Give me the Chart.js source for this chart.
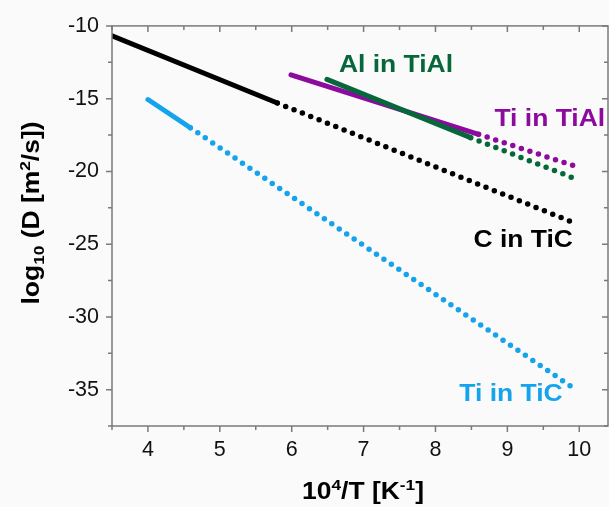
<!DOCTYPE html>
<html>
<head>
<meta charset="utf-8">
<script src="https://cdn.jsdelivr.net/npm/chart.js@4.4.1/dist/chart.umd.min.js"></script>
<style>
  html, body { margin: 0; padding: 0; background: #fafafa; }
  #wrap { width: 609px; height: 507px; }
</style>
</head>
<body>
<div id="wrap"><canvas id="diffChart"></canvas></div>
<script>
// Arrhenius plot of diffusion coefficients

// tick labels
const xTicks = [4, 5, 6, 7, 8, 9, 10];
const yTicks = [-10, -15, -20, -25, -30, -35];

// C in TiC (black)
const cTicSolidX = [3.5, 5.8];
const cTicSolidY = [-10.68, -15.3];
const cTicDotX = [5.8, 9.96];
const cTicDotY = [-15.3, -23.6];

// Ti in TiC (blue)
const tiTicSolidX = [4.0, 4.59];
const tiTicSolidY = [-15.06, -17.0];
const tiTicDotX = [4.59, 9.97];
const tiTicDotY = [-17.0, -35.06];

// Ti in TiAl (purple)
const tiTialSolidX = [5.99, 8.6];
const tiTialSolidY = [-13.36, -17.45];
const tiTialDotX = [8.6, 9.91];
const tiTialDotY = [-17.45, -19.59];

// Al in TiAl (green)
const alTialSolidX = [6.49, 8.49];
const alTialSolidY = [-13.68, -17.68];
const alTialDotX = [8.49, 9.89];
const alTialDotY = [-17.68, -20.4];

const BLACK = '#000000';
const BLUE = '#14a3ec';
const PURPLE = '#8c0a9e';
const GREEN = '#06683a';
const FONT = '"Liberation Sans", Arial, sans-serif';
const WIDEN = 1.15; // the original's lettering is a bit wider than Arial

function pts(xs, ys) {
    return xs.map((x, i) => ({ x: x, y: ys[i] }));
}

function solid(xs, ys, color) {
    return {
        data: pts(xs, ys),
        borderColor: color,
        borderWidth: 5,
        borderCapStyle: 'round',
        pointRadius: 0,
        fill: false,
        tension: 0
    };
}

function dotted(xs, ys, color) {
    return {
        data: pts(xs, ys),
        borderColor: color,
        borderWidth: 5.5,
        borderCapStyle: 'round',
        borderDash: [0, 9],
        pointRadius: 0,
        fill: false,
        tension: 0
    };
}

// text labels next to the curves (data coords of text centre / baseline)
const curveLabels = [
    { text: 'Al in TiAl', x: 7.45, y: -13.18, color: GREEN },
    { text: 'Ti in TiAl', x: 9.59, y: -16.91, color: PURPLE },
    { text: 'C in TiC', x: 9.22, y: -25.18, color: BLACK },
    { text: 'Ti in TiC', x: 9.05, y: -35.81, color: BLUE }
];

// axis titles with real sub/superscripts: [text, 'n' | 'sup' | 'sub']
const xTitle = [['10', 'n'], ['4', 'sup'], ['/T [K', 'n'], ['-1', 'sup'], [']', 'n']];
const yTitle = [['log', 'n'], ['10', 'sub'], [' (D [m', 'n'], ['2', 'sup'], ['/s])', 'n']];

function drawRich(ctx, parts) {
    const big = 'bold 23px ' + FONT;
    const small = 'bold 15px ' + FONT;
    let total = 0;
    parts.forEach(p => {
        ctx.font = p[1] === 'n' ? big : small;
        total += ctx.measureText(p[0]).width;
    });
    let x = -total / 2;
    ctx.textAlign = 'left';
    ctx.textBaseline = 'alphabetic';
    parts.forEach(p => {
        ctx.font = p[1] === 'n' ? big : small;
        const dy = p[1] === 'sup' ? -9 : (p[1] === 'sub' ? 5 : 0);
        ctx.fillText(p[0], x, dy);
        x += ctx.measureText(p[0]).width;
    });
}

// frame + ticks, curve labels and axis titles
const framePlugin = {
    id: 'frame',
    afterDraw(chart) {
        const { ctx, chartArea: a, scales } = chart;
        const xs = scales.x, ys = scales.y;
        ctx.save();
        ctx.strokeStyle = '#7a7a7a';
        ctx.lineWidth = 1.5;
        ctx.strokeRect(a.left, a.top, a.right - a.left, a.bottom - a.top);

        ctx.beginPath();
        for (let v = 3.5; v <= 10.4; v += 0.5) {
            const px = xs.getPixelForValue(v);
            const len = Number.isInteger(v) ? 6 : 4;
            ctx.moveTo(px, a.bottom);
            ctx.lineTo(px, a.bottom + len);
            ctx.moveTo(px, a.top);
            ctx.lineTo(px, a.top + len);
        }
        for (let v = -37.5; v <= -10; v += 2.5) {
            const py = ys.getPixelForValue(v);
            const len = v % 5 === 0 ? 6 : 4;
            ctx.moveTo(a.left, py);
            ctx.lineTo(a.left - len, py);
            ctx.moveTo(a.right, py);
            ctx.lineTo(a.right - len, py);
        }
        ctx.stroke();

        ctx.textAlign = 'center';
        ctx.textBaseline = 'alphabetic';
        curveLabels.forEach(l => {
            ctx.save();
            ctx.translate(xs.getPixelForValue(l.x), ys.getPixelForValue(l.y));
            ctx.scale(WIDEN, 1);
            ctx.font = 'bold 23px ' + FONT;
            ctx.fillStyle = l.color;
            ctx.fillText(l.text, 0, 0);
            ctx.restore();
        });

        ctx.fillStyle = '#000';
        ctx.save();
        ctx.translate((a.left + a.right) / 2 + 3, 499);
        ctx.scale(WIDEN, 1);
        drawRich(ctx, xTitle);
        ctx.restore();

        ctx.save();
        ctx.translate(39, 213);
        ctx.rotate(-Math.PI / 2);
        ctx.scale(WIDEN, 1);
        drawRich(ctx, yTitle);
        ctx.restore();
        ctx.restore();
    }
};

const tickFont = { family: FONT, size: 21.5 };

new Chart(document.getElementById('diffChart'), {
    type: 'line',
    data: {
        datasets: [
            solid(cTicSolidX, cTicSolidY, BLACK),
            dotted(cTicDotX, cTicDotY, BLACK),
            solid(tiTicSolidX, tiTicSolidY, BLUE),
            dotted(tiTicDotX, tiTicDotY, BLUE),
            dotted(alTialDotX, alTialDotY, GREEN),
            dotted(tiTialDotX, tiTialDotY, PURPLE),
            solid(alTialSolidX, alTialSolidY, GREEN),
            solid(tiTialSolidX, tiTialSolidY, PURPLE)
        ]
    },
    options: {
        responsive: true,
        maintainAspectRatio: false,
        animation: false,
        layout: { padding: { top: 20, right: 1, left: 0, bottom: 0 } },
        plugins: {
            legend: { display: false },
            tooltip: { enabled: false }
        },
        scales: {
            x: {
                type: 'linear',
                min: 3.5,
                max: 10.4,
                afterBuildTicks: s => { s.ticks = xTicks.map(v => ({ value: v })); },
                afterFit: s => { s.height = 81; },
                grid: { display: false, drawTicks: false },
                border: { display: false },
                ticks: { color: '#111', font: tickFont, padding: 11, maxRotation: 0 }
            },
            y: {
                type: 'linear',
                min: -37.5,
                max: -10,
                afterBuildTicks: s => { s.ticks = yTicks.map(v => ({ value: v })); },
                afterFit: s => { s.width = 112; },
                grid: { display: false, drawTicks: false },
                border: { display: false },
                ticks: { color: '#111', font: tickFont, padding: 13 }
            }
        }
    },
    plugins: [framePlugin]
});
</script>
</body>
</html>
